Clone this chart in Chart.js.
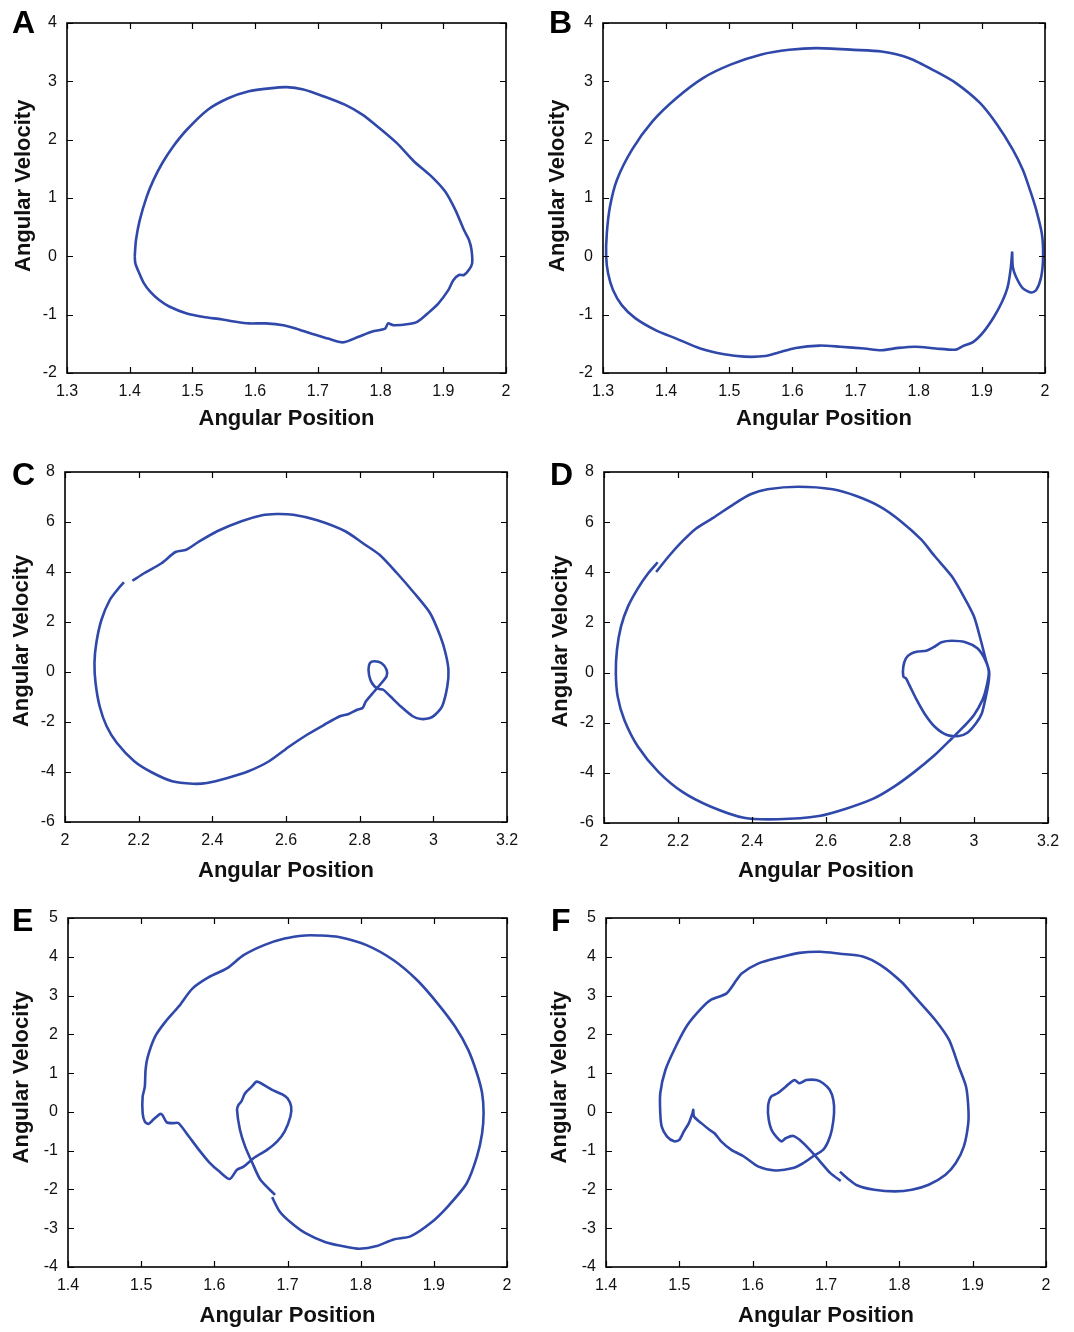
<!DOCTYPE html>
<html>
<head>
<meta charset="utf-8">
<script src="https://cdn.jsdelivr.net/npm/chart.js@4.4.1/dist/chart.umd.min.js"></script>
<style>
    body {
        margin: 0;
        background: #fff;
        width: 1074px;
        height: 1332px;
        position: relative;
        overflow: hidden;
    }
    .panel { position: absolute; }
    .letter {
        position: absolute;
        font: bold 32px "Liberation Sans", Arial, sans-serif;
        line-height: 1;
        color: #000;
    }
</style>
</head>
<body>

<script>
/* =========================
   DATA
========================= */

const posA = [1.408,1.410,1.416,1.427,1.438,1.452,1.469,1.491,1.524,1.557,1.590,1.623,1.650,1.677,1.710,1.743,1.771,1.798,1.826,1.853,1.881,1.903,1.919,1.933,1.941,1.945,1.946,1.941,1.933,1.925,1.916,1.908,1.892,1.875,1.859,1.845,1.820,1.812,1.807,1.787,1.765,1.743,1.735,1.716,1.688,1.666,1.645,1.617,1.590,1.568,1.546,1.518,1.491,1.463,1.447,1.433,1.422,1.414,1.409,1.408];
const velA = [0,0.28,0.62,1.02,1.31,1.60,1.88,2.17,2.51,2.71,2.83,2.88,2.90,2.86,2.74,2.60,2.43,2.20,1.94,1.63,1.37,1.11,0.80,0.45,0.28,0.11,-0.12,-0.23,-0.32,-0.32,-0.41,-0.58,-0.81,-0.98,-1.12,-1.16,-1.18,-1.15,-1.24,-1.29,-1.38,-1.47,-1.47,-1.41,-1.32,-1.24,-1.18,-1.15,-1.15,-1.12,-1.08,-1.04,-0.98,-0.86,-0.75,-0.61,-0.45,-0.26,-0.12,0];

const posB = [1.948,1.949,1.954,1.965,1.978,1.986,1.994,1.997,1.995,1.986,1.978,1.965,1.949,1.924,1.897,1.859,1.827,1.784,1.741,1.697,1.638,1.595,1.551,1.503,1.459,1.416,1.378,1.346,1.322,1.311,1.306,1.305,1.308,1.316,1.330,1.351,1.384,1.416,1.454,1.492,1.524,1.557,1.578,1.605,1.643,1.676,1.714,1.741,1.768,1.795,1.827,1.859,1.870,1.886,1.903,1.919,1.932,1.941,1.946,1.948];
const velB = [0.08,-0.18,-0.35,-0.55,-0.62,-0.58,-0.35,0,0.39,0.80,1.08,1.48,1.83,2.26,2.63,2.97,3.17,3.40,3.51,3.54,3.57,3.54,3.46,3.29,3.06,2.71,2.31,1.83,1.31,0.85,0.39,0,-0.29,-0.58,-0.84,-1.06,-1.27,-1.41,-1.58,-1.68,-1.72,-1.71,-1.65,-1.57,-1.53,-1.55,-1.58,-1.61,-1.57,-1.55,-1.58,-1.60,-1.54,-1.47,-1.29,-1.04,-0.78,-0.52,-0.18,0.08];

const posC = [2.183,2.216,2.263,2.300,2.329,2.361,2.413,2.479,2.535,2.573,2.620,2.685,2.761,2.808,2.854,2.901,2.948,2.991,3.019,3.033,3.041,3.038,3.024,3.005,2.991,2.967,2.944,2.911,2.883,2.864,2.853,2.840,2.829,2.824,2.828,2.840,2.859,2.873,2.873,2.859,2.840,2.817,2.808,2.793,2.770,2.746,2.704,2.657,2.610,2.554,2.498,2.441,2.385,2.347,2.291,2.235,2.188,2.141,2.113,2.094,2.083,2.080,2.085,2.099,2.122,2.146,2.160];
const velC = [3.65,3.96,4.36,4.80,4.89,5.19,5.63,6.03,6.27,6.32,6.29,6.07,5.63,5.16,4.69,3.96,3.16,2.36,1.43,0.76,0.09,-0.57,-1.37,-1.71,-1.84,-1.88,-1.77,-1.37,-0.97,-0.71,-0.68,-0.57,-0.31,0.09,0.36,0.43,0.36,0.09,-0.17,-0.44,-0.77,-1.17,-1.44,-1.51,-1.68,-1.77,-2.11,-2.51,-2.97,-3.57,-3.97,-4.24,-4.44,-4.47,-4.37,-4.01,-3.57,-2.84,-2.17,-1.37,-0.44,0.36,1.16,2.09,2.89,3.36,3.59];

const posD = [2.141,2.175,2.212,2.249,2.295,2.350,2.396,2.442,2.525,2.618,2.682,2.747,2.802,2.857,2.894,2.940,2.972,3.000,3.018,3.032,3.041,3.039,3.032,3.021,3.005,2.982,2.959,2.927,2.894,2.866,2.843,2.825,2.816,2.809,2.809,2.816,2.829,2.848,2.871,2.894,2.912,2.940,2.977,3.009,3.028,3.040,3.034,3.023,3.000,2.972,2.940,2.894,2.839,2.783,2.728,2.654,2.581,2.470,2.378,2.286,2.212,2.147,2.092,2.055,2.037,2.032,2.035,2.046,2.065,2.092,2.120,2.145];
const velD = [4.01,4.64,5.24,5.75,6.17,6.71,7.11,7.31,7.41,7.31,7.04,6.61,6.04,5.31,4.64,3.84,3.04,2.24,1.31,0.51,0.04,-0.43,-0.96,-1.63,-2.03,-2.40,-2.53,-2.49,-2.16,-1.63,-1.03,-0.49,-0.23,-0.16,0.24,0.57,0.75,0.84,0.87,1.04,1.21,1.27,1.21,0.97,0.57,0.04,-0.56,-1.09,-1.69,-2.16,-2.63,-3.29,-3.96,-4.56,-5.03,-5.43,-5.72,-5.85,-5.79,-5.33,-4.76,-3.96,-2.96,-1.89,-0.96,-0.03,0.91,1.84,2.64,3.37,3.97,4.40];

const posE = [1.679,1.689,1.705,1.724,1.752,1.780,1.798,1.822,1.845,1.868,1.896,1.919,1.945,1.959,1.966,1.968,1.966,1.959,1.947,1.929,1.905,1.877,1.845,1.808,1.770,1.742,1.724,1.696,1.668,1.640,1.617,1.593,1.570,1.551,1.533,1.519,1.509,1.506,1.505,1.502,1.502,1.505,1.510,1.516,1.526,1.529,1.535,1.544,1.551,1.565,1.579,1.593,1.607,1.621,1.631,1.640,1.654,1.672,1.686,1.696,1.704,1.705,1.700,1.693,1.682,1.668,1.658,1.651,1.642,1.637,1.633,1.631,1.635,1.642,1.652,1.663,1.683];
const velE = [-2.20,-2.56,-2.86,-3.12,-3.36,-3.48,-3.53,-3.46,-3.29,-3.21,-2.86,-2.44,-1.84,-1.15,-0.55,-0.03,0.48,0.99,1.60,2.20,2.80,3.40,3.91,4.30,4.51,4.55,4.55,4.47,4.30,4.04,3.70,3.48,3.18,2.71,2.32,1.94,1.42,1.08,0.65,0.39,-0.03,-0.25,-0.31,-0.21,-0.05,-0.08,-0.27,-0.29,-0.29,-0.63,-0.98,-1.30,-1.54,-1.73,-1.49,-1.41,-1.19,-0.98,-0.76,-0.51,-0.12,0.14,0.35,0.45,0.54,0.69,0.78,0.65,0.48,0.27,0.18,0.05,-0.46,-0.89,-1.32,-1.75,-2.14];

const posF = [1.719,1.729,1.743,1.766,1.794,1.817,1.840,1.863,1.877,1.888,1.894,1.894,1.891,1.881,1.868,1.849,1.821,1.803,1.775,1.750,1.719,1.692,1.664,1.636,1.608,1.585,1.578,1.564,1.544,1.530,1.511,1.495,1.481,1.474,1.474,1.476,1.483,1.493,1.500,1.506,1.513,1.518,1.519,1.520,1.530,1.541,1.548,1.557,1.571,1.588,1.608,1.631,1.655,1.669,1.682,1.696,1.703,1.708,1.711,1.710,1.705,1.696,1.687,1.673,1.664,1.657,1.645,1.634,1.625,1.621,1.622,1.627,1.639,1.645,1.655,1.664,1.678,1.692,1.706,1.720];
const velF = [-1.54,-1.71,-1.90,-2.01,-2.05,-2.01,-1.88,-1.62,-1.32,-0.89,-0.29,0.14,0.65,1.17,1.85,2.37,2.97,3.35,3.78,4.01,4.08,4.13,4.10,3.98,3.83,3.57,3.40,3.05,2.90,2.67,2.24,1.68,1.08,0.48,-0.03,-0.38,-0.63,-0.76,-0.72,-0.51,-0.29,-0.03,0.05,-0.12,-0.29,-0.46,-0.55,-0.76,-0.98,-1.15,-1.41,-1.51,-1.45,-1.32,-1.15,-0.98,-0.76,-0.46,-0.03,0.31,0.57,0.74,0.82,0.82,0.74,0.82,0.65,0.48,0.39,0.14,-0.21,-0.51,-0.76,-0.68,-0.62,-0.72,-0.98,-1.28,-1.58,-1.78];

/* tick labels */
const xTicksAB = [1.3, 1.4, 1.5, 1.6, 1.7, 1.8, 1.9, 2];
const yTicksAB = [-2, -1, 0, 1, 2, 3, 4];
const xTicksCD = [2, 2.2, 2.4, 2.6, 2.8, 3, 3.2];
const yTicksCD = [-6, -4, -2, 0, 2, 4, 6, 8];
const xTicksEF = [1.4, 1.5, 1.6, 1.7, 1.8, 1.9, 2];
const yTicksEF = [-4, -3, -2, -1, 0, 1, 2, 3, 4, 5];

const xTitle = "Angular Position";
const yTitle = "Angular Velocity";

/* =========================
   LAYOUT
========================= */

const FONT = '"Liberation Sans", Arial, Helvetica, sans-serif';
const LINE = "#2f48a9";

// box: canvas [left, top, width, height]; area: plot [left, top, right, bottom]
// yLift: leading spaces that nudge the vertical title up a little, as in the figure
const panels = [
    { letter: "A", pos: posA, vel: velA, xt: xTicksAB, yt: yTicksAB,
      box: [0, 0, 535, 445], area: [67, 23, 506, 373], yTitleX: 24, xTitleY: 419, yLift: 4, letterAt: [12, 6] },
    { letter: "B", pos: posB, vel: velB, xt: xTicksAB, yt: yTicksAB,
      box: [537, 0, 537, 445], area: [603, 23, 1045, 373], yTitleX: 558, xTitleY: 419, yLift: 4, letterAt: [549, 6] },
    { letter: "C", pos: posC, vel: velC, xt: xTicksCD, yt: yTicksCD,
      box: [0, 448, 535, 447], area: [65, 472, 507, 822], yTitleX: 22, xTitleY: 871, yLift: 2, letterAt: [12, 458] },
    { letter: "D", pos: posD, vel: velD, xt: xTicksCD, yt: yTicksCD,
      box: [537, 448, 537, 447], area: [604, 472, 1048, 823], yTitleX: 561, xTitleY: 871, yLift: 2, letterAt: [550, 458] },
    { letter: "E", pos: posE, vel: velE, xt: xTicksEF, yt: yTicksEF,
      box: [0, 895, 535, 437], area: [68, 918, 507, 1267], yTitleX: 22, xTitleY: 1316, yLift: 5, letterAt: [12, 904] },
    { letter: "F", pos: posF, vel: velF, xt: xTicksEF, yt: yTicksEF,
      box: [537, 895, 537, 437], area: [606, 918, 1046, 1267], yTitleX: 560, xTitleY: 1316, yLift: 5, letterAt: [551, 904] }
];

/* =========================
   BOX + INWARD TICKS
========================= */

const boxTicks = {
    id: "boxTicks",
    afterDraw(chart) {
        const { ctx, chartArea: a, scales: { x, y } } = chart;
        const len = 6;

        ctx.save();
        ctx.strokeStyle = "#000";
        ctx.lineWidth = 1.2;
        ctx.beginPath();

        x.ticks.forEach(t => {
            const px = Math.round(x.getPixelForValue(t.value)) + 0.5;
            ctx.moveTo(px, a.bottom); ctx.lineTo(px, a.bottom - len);
            ctx.moveTo(px, a.top); ctx.lineTo(px, a.top + len);
        });

        y.ticks.forEach(t => {
            const py = Math.round(y.getPixelForValue(t.value)) + 0.5;
            ctx.moveTo(a.left, py); ctx.lineTo(a.left + len, py);
            ctx.moveTo(a.right, py); ctx.lineTo(a.right - len, py);
        });

        ctx.stroke();

        ctx.lineWidth = 1.6;
        ctx.strokeRect(a.left, a.top, a.right - a.left, a.bottom - a.top);
        ctx.restore();
    }
};

/* =========================
   RENDER PANELS
========================= */

function renderPanel(p) {

    const [bx, by, bw, bh] = p.box;
    const [L, T, R, B] = p.area;

    const canvas = document.createElement("canvas");
    canvas.className = "panel";
    canvas.width = bw;
    canvas.height = bh;
    canvas.style.left = bx + "px";
    canvas.style.top = by + "px";
    canvas.style.width = bw + "px";
    canvas.style.height = bh + "px";
    document.body.appendChild(canvas);

    const letter = document.createElement("div");
    letter.className = "letter";
    letter.textContent = p.letter;
    letter.style.left = p.letterAt[0] + "px";
    letter.style.top = p.letterAt[1] + "px";
    document.body.appendChild(letter);

    const n = Math.min(p.pos.length, p.vel.length);
    const points = [];
    for (let i = 0; i < n; i++) points.push({ x: p.pos[i], y: p.vel[i] });

    const titleSize = 22;
    const halfLine = titleSize * 1.2 / 2;

    new Chart(canvas, {
        type: "scatter",
        data: {
            datasets: [{
                data: points,
                showLine: true,
                borderColor: LINE,
                borderWidth: 2.6,
                pointRadius: 0,
                tension: 0.25,
                fill: false
            }]
        },
        options: {
            responsive: false,
            animation: false,
            layout: {
                padding: { left: 0, top: T - by, right: bx + bw - R, bottom: 0 }
            },
            plugins: {
                legend: { display: false },
                tooltip: { enabled: false }
            },
            scales: {
                x: {
                    type: "linear",
                    position: "bottom",
                    min: p.xt[0],
                    max: p.xt[p.xt.length - 1],
                    afterBuildTicks: s => { s.ticks = p.xt.map(v => ({ value: v })); },
                    afterFit: s => { s.height = by + bh - B; },
                    grid: { display: false, drawTicks: false },
                    border: { display: false },
                    ticks: {
                        padding: 9,
                        color: "#111",
                        autoSkip: false,
                        maxRotation: 0,
                        font: { family: FONT, size: 16 },
                        callback: v => String(v)
                    },
                    title: {
                        display: true,
                        text: xTitle,
                        color: "#111",
                        font: { family: FONT, size: titleSize, weight: "bold" },
                        padding: { top: 0, bottom: by + bh - p.xTitleY - halfLine }
                    }
                },
                y: {
                    type: "linear",
                    position: "left",
                    min: p.yt[0],
                    max: p.yt[p.yt.length - 1],
                    afterBuildTicks: s => { s.ticks = p.yt.map(v => ({ value: v })); },
                    afterFit: s => { s.width = L - bx; },
                    grid: { display: false, drawTicks: false },
                    border: { display: false },
                    ticks: {
                        padding: 10,
                        color: "#111",
                        autoSkip: false,
                        font: { family: FONT, size: 16 },
                        callback: v => String(v)
                    },
                    title: {
                        display: true,
                        text: " ".repeat(p.yLift) + yTitle,
                        color: "#111",
                        font: { family: FONT, size: titleSize, weight: "bold" },
                        padding: { top: p.yTitleX - bx - halfLine, bottom: 0 }
                    }
                }
            }
        },
        plugins: [boxTicks]
    });
}

panels.forEach(renderPanel);
</script>
</body>
</html>
